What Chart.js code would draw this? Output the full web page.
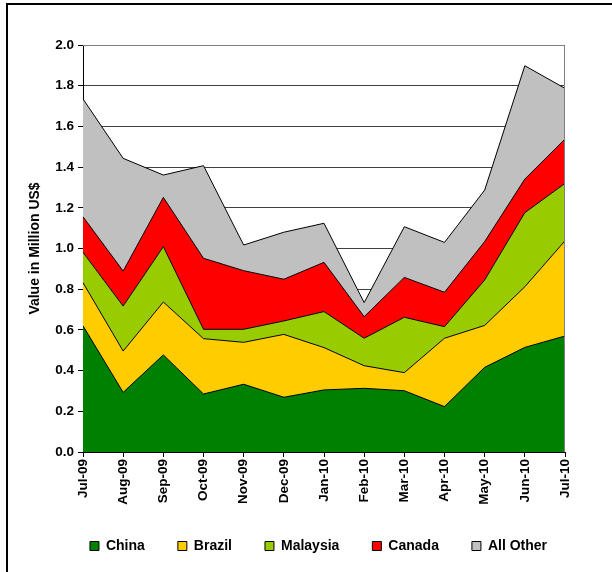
<!DOCTYPE html>
<html>
<head>
<meta charset="utf-8">
<script src="https://cdn.jsdelivr.net/npm/chart.js@4/dist/chart.umd.min.js"></script>
<style>
  html, body { margin: 0; padding: 0; background: #fff; }
  #wrap { position: relative; width: 612px; height: 572px; overflow: hidden; }
  #frame { position: absolute; left: 6px; top: 3px; width: 700px; height: 700px;
           border-left: 2px solid #000; border-top: 2px solid #000; pointer-events: none; }
</style>
</head>
<body>
<div id="wrap">
  <canvas id="c" width="612" height="572"></canvas>
  <div id="frame"></div>
</div>
<script>
const months = ["Jul-09","Aug-09","Sep-09","Oct-09","Nov-09","Dec-09","Jan-10","Feb-10","Mar-10","Apr-10","May-10","Jun-10","Jul-10"];
const china    = [0.620, 0.293, 0.477, 0.285, 0.333, 0.269, 0.305, 0.313, 0.301, 0.223, 0.416, 0.514, 0.570];
const brazil   = [0.212, 0.203, 0.260, 0.272, 0.206, 0.309, 0.208, 0.111, 0.089, 0.336, 0.206, 0.298, 0.468];
const malaysia = [0.149, 0.221, 0.272, 0.046, 0.064, 0.066, 0.177, 0.135, 0.272, 0.057, 0.223, 0.364, 0.282];
const canada   = [0.175, 0.172, 0.242, 0.349, 0.288, 0.205, 0.242, 0.106, 0.196, 0.169, 0.189, 0.165, 0.218];
const allOther = [0.579, 0.554, 0.110, 0.455, 0.126, 0.231, 0.192, 0.069, 0.249, 0.245, 0.253, 0.557, 0.249];
const seriesNames = ["China","Brazil","Malaysia","Canada","All Other"];
const yTicks = [0.0, 0.2, 0.4, 0.6, 0.8, 1.0, 1.2, 1.4, 1.6, 1.8, 2.0];

const colors = ["#008000", "#FFCC00", "#99CC00", "#FF0000", "#C0C0C0"];
const seriesData = [china, brazil, malaysia, canada, allOther];

const font = "'Liberation Sans', Arial, Helvetica, sans-serif";

const frameBorder = {
  id: 'frameBorder',
  afterLayout(chart) {
    const lg = chart.legend;
    if (lg) { lg.left += 36; lg.right += 36; }
  },
  afterDatasetsDraw(chart) {
    const {ctx, chartArea: a} = chart;
    ctx.save();
    ctx.strokeStyle = '#808080';
    ctx.lineWidth = 1;
    ctx.beginPath();
    ctx.moveTo(a.left, a.top + 0.5);
    ctx.lineTo(a.right - 0.5, a.top + 0.5);
    ctx.lineTo(a.right - 0.5, a.bottom);
    ctx.stroke();
    ctx.restore();
  }
};

new Chart(document.getElementById('c'), {
  type: 'line',
  data: {
    labels: months,
    datasets: seriesData.map((d, i) => ({
      label: seriesNames[i],
      data: d,
      backgroundColor: colors[i],
      borderColor: '#000',
      borderWidth: 1,
      fill: i === 0 ? 'origin' : '-1',
      tension: 0,
      pointRadius: 0,
      pointHoverRadius: 0
    }))
  },
  plugins: [frameBorder],
  options: {
    responsive: false,
    animation: false,
    events: [],
    layout: { padding: { top: 45, right: 47, left: 0, bottom: 9 } },
    plugins: {
      tooltip: { enabled: false },
      legend: {
        position: 'bottom',
        labels: {
          font: { family: font, size: 14, weight: 'bold' },
          color: '#000',
          boxWidth: 9,
          boxHeight: 9,
          padding: 33,
          useBorderRadius: false
        }
      }
    },
    scales: {
      x: {
        type: 'category',
        offset: false,
        afterFit(s) { s.height = 54; },
        grid: { drawOnChartArea: false, drawTicks: true, tickLength: 5, color: '#000' },
        border: { color: '#000', width: 1 },
        ticks: {
          autoSkip: false, maxRotation: 90, minRotation: 90, padding: 2,
          color: '#000',
          font: { family: font, size: 13.5, weight: 'bold' }
        }
      },
      y: {
        stacked: true,
        min: 0, max: 2.0,
        afterFit(s) { s.width = 83; },
        afterBuildTicks(s) { s.ticks = yTicks.map(v => ({ value: v })); },
        grid: { color: '#404040', lineWidth: 1, drawTicks: true, tickLength: 5,
                tickColor: '#000' },
        border: { color: '#000', width: 1 },
        ticks: {
          padding: 4, color: '#000',
          font: { family: font, size: 13.5, weight: 'bold' },
          callback: v => Number(v).toFixed(1)
        },
        title: {
          display: true, text: 'Value in Million US$', color: '#000',
          font: { family: font, size: 14, weight: 'bold' },
          padding: { top: 27, bottom: 0 }
        }
      }
    }
  }
});
</script>
</body>
</html>
